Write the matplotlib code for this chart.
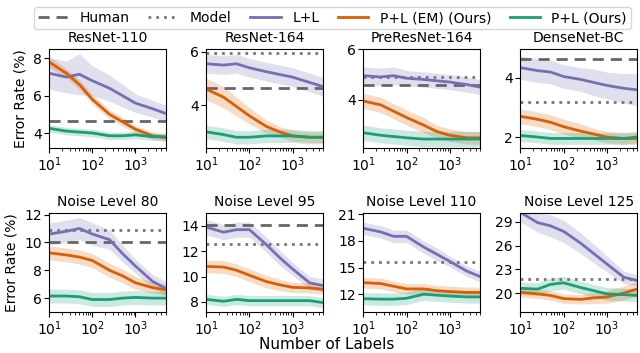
import numpy as np
import matplotlib.pyplot as plt

# number of labels (x positions)
n_labels = [10, 25, 50, 100, 250, 500, 1000, 2500, 5000]

titles = ['ResNet-110', 'ResNet-164', 'PreResNet-164', 'DenseNet-BC',
          'Noise Level 80', 'Noise Level 95', 'Noise Level 110', 'Noise Level 125']

# human / model reference lines (None = outside visible range)
human = [4.65, 4.65, 4.6, 4.65, 10.0, 14.1, None, None]
model = [None, 5.95, 4.9, 3.2, 10.9, 12.6, 15.6, 21.8]

# L+L mean and band half-width
ll_mean = [
    [7.2, 7.0, 7.15, 6.8, 6.4, 6.0, 5.6, 5.3, 5.05],
    [5.55, 5.5, 5.55, 5.4, 5.25, 5.15, 5.05, 4.85, 4.7],
    [4.95, 4.9, 4.95, 4.85, 4.8, 4.75, 4.7, 4.6, 4.5],
    [4.35, 4.25, 4.2, 4.05, 3.95, 3.85, 3.75, 3.65, 3.6],
    [10.6, 10.8, 11.0, 10.6, 10.2, 9.2, 8.3, 7.2, 6.7],
    [13.9, 13.5, 13.7, 13.7, 12.5, 11.5, 10.6, 9.5, 9.3],
    [19.4, 19.0, 18.5, 18.5, 17.3, 16.5, 15.7, 14.6, 14.0],
    [30.2, 28.9, 28.5, 27.8, 26.3, 25.0, 23.7, 22.0, 21.6],
]
ll_band = [
    [0.85, 0.85, 1.1, 0.8, 0.7, 0.6, 0.5, 0.45, 0.45],
    [0.35, 0.35, 0.35, 0.35, 0.35, 0.35, 0.35, 0.35, 0.35],
    [0.35, 0.35, 0.35, 0.3, 0.3, 0.3, 0.3, 0.3, 0.3],
    [0.4, 0.4, 0.4, 0.4, 0.4, 0.45, 0.45, 0.5, 0.55],
    [0.8, 0.8, 0.8, 0.8, 0.7, 0.6, 0.5, 0.5, 0.5],
    [0.6, 0.6, 0.6, 0.6, 0.6, 0.6, 0.5, 0.5, 0.5],
    [0.7, 0.7, 0.7, 0.7, 0.7, 0.7, 0.6, 0.6, 0.6],
    [1.2, 1.2, 1.4, 1.4, 1.3, 1.2, 1.0, 0.8, 0.7],
]

# P+L (EM) mean and band half-width
em_mean = [
    [7.8, 7.2, 6.6, 5.8, 5.0, 4.6, 4.2, 3.85, 3.75],
    [4.6, 4.3, 3.95, 3.6, 3.2, 3.0, 2.85, 2.8, 2.8],
    [3.95, 3.8, 3.55, 3.3, 3.0, 2.75, 2.6, 2.5, 2.5],
    [2.7, 2.6, 2.5, 2.35, 2.2, 2.1, 2.0, 1.95, 1.95],
    [9.25, 9.1, 8.95, 8.7, 8.0, 7.6, 7.1, 6.75, 6.6],
    [10.8, 10.75, 10.5, 10.1, 9.6, 9.35, 9.15, 9.1, 9.0],
    [13.3, 13.2, 12.9, 12.6, 12.6, 12.4, 12.3, 12.2, 12.2],
    [20.1, 19.9, 19.7, 19.3, 19.2, 19.4, 19.5, 20.0, 20.5],
]
em_band = [
    [0.3, 0.25, 0.25, 0.25, 0.25, 0.25, 0.2, 0.2, 0.2],
    [0.4, 0.4, 0.35, 0.3, 0.25, 0.2, 0.2, 0.2, 0.2],
    [0.3, 0.3, 0.3, 0.3, 0.3, 0.25, 0.25, 0.25, 0.25],
    [0.25, 0.25, 0.25, 0.25, 0.25, 0.2, 0.2, 0.2, 0.2],
    [0.5, 0.5, 0.5, 0.5, 0.5, 0.5, 0.45, 0.4, 0.4],
    [0.5, 0.5, 0.5, 0.5, 0.5, 0.45, 0.4, 0.4, 0.4],
    [0.6, 0.6, 0.6, 0.6, 0.6, 0.6, 0.6, 0.6, 0.6],
    [0.6, 0.6, 0.6, 0.6, 0.6, 0.7, 0.8, 0.9, 0.9],
]

# P+L mean and band half-width
pl_mean = [
    [4.25, 4.1, 4.05, 4.0, 3.85, 3.85, 3.9, 3.8, 3.8],
    [3.0, 2.9, 2.8, 2.8, 2.85, 2.85, 2.85, 2.8, 2.8],
    [2.7, 2.6, 2.55, 2.5, 2.45, 2.45, 2.45, 2.45, 2.45],
    [2.05, 2.0, 1.95, 1.95, 1.95, 1.95, 1.95, 1.95, 2.0],
    [6.15, 6.15, 6.1, 5.9, 5.9, 6.0, 6.05, 6.0, 6.0],
    [8.2, 8.05, 8.2, 8.1, 8.1, 8.1, 8.1, 8.1, 7.95],
    [11.5, 11.45, 11.45, 11.55, 12.0, 11.9, 11.8, 11.7, 11.7],
    [20.6, 20.5, 21.1, 21.3, 20.7, 20.3, 19.9, 19.8, 19.7],
]
pl_band = [
    [0.2, 0.2, 0.2, 0.2, 0.2, 0.2, 0.2, 0.2, 0.2],
    [0.25, 0.25, 0.25, 0.25, 0.25, 0.25, 0.25, 0.25, 0.25],
    [0.3, 0.3, 0.3, 0.3, 0.3, 0.3, 0.3, 0.3, 0.3],
    [0.2, 0.2, 0.2, 0.2, 0.2, 0.2, 0.2, 0.2, 0.2],
    [0.5, 0.5, 0.5, 0.5, 0.5, 0.5, 0.5, 0.5, 0.5],
    [0.4, 0.4, 0.4, 0.4, 0.4, 0.4, 0.4, 0.4, 0.4],
    [0.7, 0.7, 0.7, 0.7, 0.7, 0.7, 0.7, 0.7, 0.7],
    [0.8, 0.8, 0.8, 0.8, 0.8, 0.8, 0.8, 0.8, 0.8],
]

ylims = [(3.2, 8.5), (2.4, 6.1), (2.1, 6.0), (1.63, 4.98),
         (5.0, 12.1), (7.2, 15.0), (10.0, 21.1), (17.6, 30.1)]
yticks = [[4, 6, 8], [4, 6], [4, 6], [2, 4],
          [6, 8, 10, 12], [8, 10, 12, 14], [12, 15, 18, 21], [20, 23, 26, 29]]

c_ll = '#7570b3'
c_em = '#d95f02'
c_pl = '#1b9e77'

plt.rcParams['font.size'] = 10

fig, axes = plt.subplots(2, 4, figsize=(6.4, 3.53), dpi=100)
plt.subplots_adjust(left=0.077, right=0.995, top=0.861, bottom=0.116,
                    wspace=0.35, hspace=0.66)

x = np.array(n_labels)
for i, ax in enumerate(axes.flat):
    if human[i] is not None:
        ax.axhline(human[i], color='#666666', ls=(0, (4, 2.5)), lw=2, label='Human')
    if model[i] is not None:
        ax.axhline(model[i], color='#777777', ls=(0, (1, 1.8)), lw=2, label='Model')
    for mean, band, c, lab in [(ll_mean, ll_band, c_ll, 'L+L'),
                               (em_mean, em_band, c_em, 'P+L (EM) (Ours)'),
                               (pl_mean, pl_band, c_pl, 'P+L (Ours)')]:
        m = np.array(mean[i])
        b = np.array(band[i])
        ax.fill_between(x, m - b, m + b, color=c, alpha=0.22, lw=0)
        ax.plot(x, m, color=c, lw=2, label=lab)
    ax.set_xscale('log')
    ax.set_xlim(10, 5000)
    ax.set_xticks([10, 100, 1000])
    ax.set_ylim(*ylims[i])
    ax.set_yticks(yticks[i])
    ax.set_title(titles[i], fontsize=10, pad=5)
    ax.tick_params(labelsize=10, pad=2)

axes[0, 0].set_ylabel('Error Rate (%)')
axes[1, 0].set_ylabel('Error Rate (%)')
fig.text(0.51, 0.012, 'Number of Labels', ha='center', fontsize=11)

# legend from a panel that has all five entries
h, l = axes[1, 0].get_legend_handles_labels()
fig.legend(h, l, loc='upper center', ncol=5, bbox_to_anchor=(0.042, 0.935, 0.955, 0.065),
           mode='expand', fontsize=10, handlelength=2.2, borderpad=0.3,
           handletextpad=0.8, frameon=True)

plt.savefig('out.png')
